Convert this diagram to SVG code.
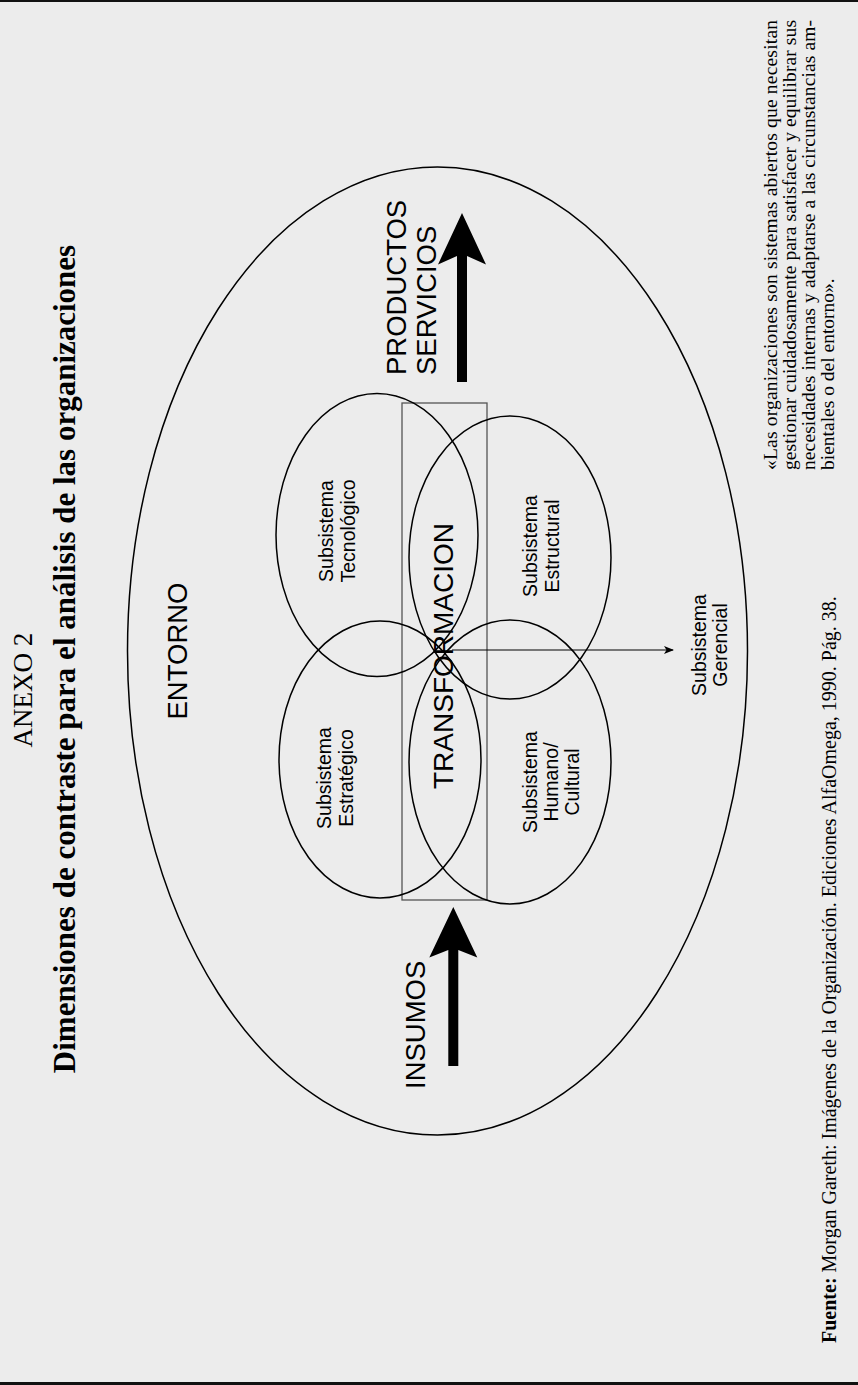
<svg xmlns="http://www.w3.org/2000/svg" width="858" height="1385" viewBox="0 0 858 1385">
<style>
.sans{font-family:"Liberation Sans",Arial,sans-serif;fill:#000}
.serif{font-family:"Liberation Serif","Times New Roman",serif;fill:#000}
.sub{font-size:19.5px}
.big{font-size:27.5px}
.ell{fill:none;stroke:#000;stroke-width:1.5}
</style>
<defs>
<marker id="ah" markerWidth="10" markerHeight="8" refX="9" refY="4" orient="auto" markerUnits="userSpaceOnUse">
<path d="M0,0 L10,4 L0,8 L2.5,4 Z" fill="#000"/>
</marker>
</defs>
<rect x="0" y="0" width="858" height="1385" fill="#ececec"/>
<line x1="0" y1="1" x2="858" y2="1" stroke="#111" stroke-width="2"/>
<line x1="0" y1="1383.5" x2="858" y2="1383.5" stroke="#111" stroke-width="3"/>

<g id="titles">
<text class="serif" font-size="27" text-anchor="middle" transform="translate(32,690) rotate(-90)">ANEXO 2</text>
<text class="serif" font-size="31" font-weight="bold" text-anchor="middle" transform="translate(75,659) rotate(-90)">Dimensiones de contraste para el análisis de las organizaciones</text>
</g>

<g id="entorno">
<ellipse class="ell" cx="437.5" cy="651" rx="310" ry="484"/>
<text class="sans big" text-anchor="middle" transform="translate(186.5,651) rotate(-90)">ENTORNO</text>
</g>

<g id="transformacion">
<rect x="402" y="403" width="85" height="497" fill="none" stroke="#555" stroke-width="1.3"/>
</g>

<g id="tecnologico">
<ellipse class="ell" cx="377" cy="535" rx="101" ry="141.5"/>
<text class="sans sub" text-anchor="middle" transform="translate(333,531) rotate(-90)"><tspan x="0" y="0">Subsistema</tspan><tspan x="0" y="21.5">Tecnológico</tspan></text>
</g>

<g id="estructural">
<ellipse class="ell" cx="510" cy="557.5" rx="101" ry="141.5"/>
<text class="sans sub" text-anchor="middle" transform="translate(537,546) rotate(-90)"><tspan x="0" y="0">Subsistema</tspan><tspan x="0" y="21.5">Estructural</tspan></text>
</g>

<g id="estrategico">
<ellipse class="ell" cx="380" cy="759.5" rx="101" ry="138.5"/>
<text class="sans sub" text-anchor="middle" transform="translate(331,778) rotate(-90)"><tspan x="0" y="0">Subsistema</tspan><tspan x="0" y="21.5">Estratégico</tspan></text>
</g>

<g id="humano">
<ellipse class="ell" cx="510" cy="762" rx="101" ry="142"/>
<text class="sans sub" text-anchor="middle" transform="translate(537,782) rotate(-90)"><tspan x="0" y="0">Subsistema</tspan><tspan x="0" y="21">Humano/</tspan><tspan x="0" y="42">Cultural</tspan></text>
</g>

<g id="transformacion-label">
<text class="sans" font-size="28" text-anchor="middle" transform="translate(452.5,656) rotate(-90)">TRANSFORMACION</text>
</g>

<g id="gerencial">
<text class="sans sub" text-anchor="middle" transform="translate(706,645) rotate(-90)"><tspan x="0" y="0">Subsistema</tspan><tspan x="0" y="21">Gerencial</tspan></text>
</g>

<g id="insumos">
<text class="sans big" transform="translate(425,1089) rotate(-90)">INSUMOS</text>
</g>

<g id="productos">
<text class="sans big" transform="translate(406,375) rotate(-90)"><tspan x="0" y="0">PRODUCTOS</tspan><tspan x="0" y="29.5">SERVICIOS</tspan></text>
</g>

<g id="connectors">
<line x1="452" y1="650" x2="673" y2="650" stroke="#000" stroke-width="1.2" marker-end="url(#ah)"/>
<path d="M448.3,1066 L448.3,950 L429.3,957.5 L453.3,907 L477.3,957.5 L458.3,950 L458.3,1066 Z" fill="#000"/>
<path d="M457,382 L457,256 L438,264.5 L462,213 L486,264.5 L467,256 L467,382 Z" fill="#000"/>
</g>

<g id="quote">
<text class="serif" font-size="19.5" transform="translate(777,470) rotate(-90)">
<tspan x="0" y="0" textLength="450" lengthAdjust="spacing">«Las organizaciones son sistemas abiertos que necesitan</tspan>
<tspan x="0" y="19" textLength="450" lengthAdjust="spacing">gestionar cuidadosamente para satisfacer y equilibrar sus</tspan>
<tspan x="0" y="38" textLength="450" lengthAdjust="spacing">necesidades internas y adaptarse a las circunstancias am-</tspan>
<tspan x="0" y="57">bientales o del entorno».</tspan>
</text>
</g>

<g id="fuente">
<text class="serif" font-size="20" transform="translate(836,1343) rotate(-90)"><tspan font-weight="bold">Fuente:</tspan> Morgan Gareth: Imágenes de la Organización. Ediciones AlfaOmega, 1990. Pág. 38.</text>
</g>
</svg>
